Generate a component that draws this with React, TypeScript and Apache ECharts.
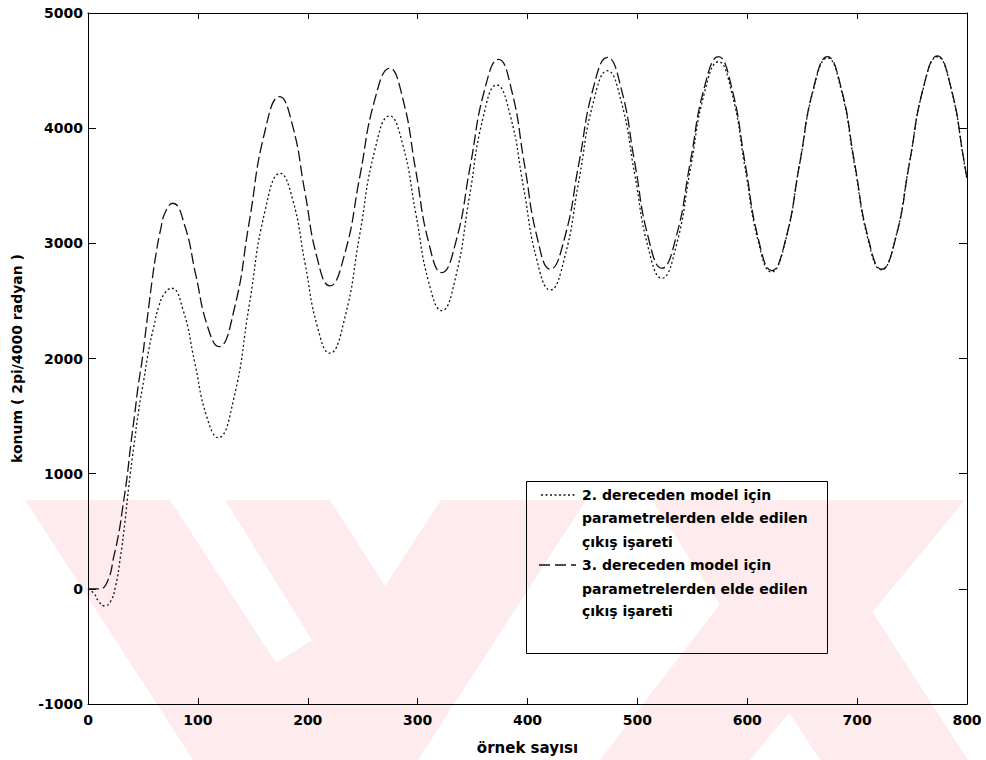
import React, { useEffect, useRef } from "react";
import * as echarts from "echarts";

// --- Data (x: örnek sayısı, y: konum) ---
const xTickValues = [0, 100, 200, 300, 400, 500, 600, 700, 800];
const yTickValues = [-1000, 0, 1000, 2000, 3000, 4000, 5000];

// 2. dereceden model (dotted)
const order2: [number, number][] = [
  [0, 0], [5.3, -38], [9.8, -110], [15.3, -148], [20.5, -110], [25, 20], [29.6, 281], [33.5, 570],
  [37.1, 888], [41.7, 1235], [46.2, 1554], [50.8, 1814], [55.3, 2075], [59.9, 2277], [64.4, 2451],
  [69.9, 2567], [76, 2610],
  [86.6, 2420], [97.2, 1962], [107.8, 1503], [118.4, 1313],
  [132.6, 1649], [146.7, 2461], [160.9, 3272], [175, 3608],
  [186.3, 3379], [197.5, 2827], [208.8, 2275], [220, 2046],
  [233.6, 2348], [247.3, 3076], [260.9, 3804], [274.5, 4106],
  [286.4, 3859], [298.3, 3261], [310.1, 2663], [322, 2416],
  [334.5, 2703], [347, 3396], [359.5, 4088], [372, 4375],
  [384.2, 4114], [396.4, 3485], [408.5, 2856], [420.7, 2595],
  [433.7, 2874], [446.8, 3547], [459.8, 4220], [472.8, 4499],
  [485.2, 4235], [497.6, 3598], [509.9, 2961], [522.3, 2697],
  [535.2, 2972], [548.1, 3637], [560.9, 4302], [573.8, 4577],
  [585.9, 4310], [597.9, 3664], [610, 3017], [622, 2750],
  [634.8, 3022], [647.5, 3680], [660.3, 4338], [673, 4610],
  [685.3, 4341], [697.5, 3690], [709.8, 3039], [722, 2770],
  [734.8, 3041], [747.5, 3695], [760.3, 4349], [773, 4620],
  [785.3, 4350], [797.5, 3697], [800, 3555],
];

// 3. dereceden model (dashed)
const order3: [number, number][] = [
  [0, 0], [5, 0], [11, 0], [18.3, 78], [23.5, 281], [28, 483], [31.7, 715], [35.6, 975],
  [38.7, 1235], [42.6, 1525], [45.6, 1756], [49.3, 1988], [52.3, 2219], [55.3, 2451], [58.4, 2682],
  [62, 2914], [66, 3116], [70.5, 3275], [77.2, 3348],
  [87.7, 3166], [98.1, 2726], [108.6, 2285], [119, 2103],
  [132.9, 2421], [146.8, 3189], [160.6, 3956], [174.5, 4274],
  [185.9, 4033], [197.3, 3452], [208.6, 2871], [220, 2630],
  [233.6, 2907], [247.3, 3575], [260.9, 4243], [274.5, 4520],
  [286.4, 4260], [298.3, 3633], [310.1, 3006], [322, 2746],
  [334.9, 3017], [347.9, 3672], [360.8, 4327], [373.7, 4598],
  [385.5, 4331], [397.2, 3687], [409, 3042], [420.7, 2775],
  [433.7, 3044], [446.8, 3695], [459.8, 4346], [472.8, 4615],
  [485.2, 4347], [497.6, 3700], [509.9, 3052], [522.3, 2784],
  [535.2, 3053], [548.1, 3703], [560.9, 4352], [573.8, 4621],
  [585.9, 4349], [598.1, 3692], [610.2, 3035], [622.3, 2763],
  [635, 3035], [647.7, 3692], [660.3, 4349], [673, 4621],
  [685.4, 4351], [697.7, 3698], [710.1, 3045], [722.4, 2775],
  [735.1, 3046], [747.7, 3701], [760.4, 4356], [773, 4627],
  [785.3, 4357], [797.5, 3704], [800, 3560],
];

const legendLabels = [
  ["2. dereceden model için", "parametrelerden elde edilen", "çıkış işareti"],
  ["3. dereceden model için", "parametrelerden elde edilen", "çıkış işareti"],
];
const xAxisTitle = "örnek sayısı";
const yAxisTitle = "konum ( 2pi/4000 radyan )";

const FONT = "'DejaVu Sans', 'Liberation Sans', Arial, sans-serif";
const INK = "#111";
const PINK = "#fdebee";

export default function App() {
  const ref = useRef<HTMLDivElement>(null);

  useEffect(() => {
    if (!ref.current) return;
    const chart = echarts.init(ref.current, null, { renderer: "svg" });

    const tickLabel = {
      fontFamily: FONT,
      fontWeight: "bold" as const,
      fontSize: 14,
      color: "#000",
      formatter: (v: number) => String(v),
    };
    const axisLine = { show: true, onZero: false, lineStyle: { color: "#000", width: 1 } };

    const baseX = {
      type: "value" as const,
      min: xTickValues[0],
      max: xTickValues[xTickValues.length - 1],
      interval: 100,
      splitLine: { show: false },
      axisLine,
      axisTick: { show: true, inside: true, length: 6, lineStyle: { color: "#000" } },
    };
    const baseY = {
      type: "value" as const,
      min: yTickValues[0],
      max: yTickValues[yTickValues.length - 1],
      interval: 1000,
      splitLine: { show: false },
      axisLine,
      axisTick: { show: true, inside: true, length: 8, lineStyle: { color: "#000" } },
    };

    const legendGraphics: any[] = [
      {
        type: "rect",
        shape: { x: 526.5, y: 481.5, width: 301, height: 172 },
        style: { fill: "none", stroke: "#000", lineWidth: 1 },
        z: 10,
      },
      {
        type: "line",
        shape: { x1: 541, y1: 495, x2: 576, y2: 495 },
        style: { stroke: INK, lineWidth: 1.3, lineDash: [2, 2.5] },
        z: 10,
      },
      {
        type: "line",
        shape: { x1: 539, y1: 565, x2: 576, y2: 565 },
        style: { stroke: INK, lineWidth: 1.3, lineDash: [11, 5] },
        z: 10,
      },
    ];
    const lineYs = [495, 518, 541.5, 565, 588.5, 611];
    legendLabels.flat().forEach((t, i) => {
      legendGraphics.push({
        type: "text",
        x: 582,
        y: lineYs[i],
        z: 10,
        style: {
          text: t,
          fontFamily: FONT,
          fontWeight: "bold",
          fontSize: 14,
          fill: "#000",
          textVerticalAlign: "middle",
        },
      });
    });

    const watermark: any[] = [
      {
        type: "polygon",
        z: -10,
        silent: true,
        shape: {
          points: [
            [25, 500], [170, 500], [276, 663], [312, 640], [225, 500], [330, 500],
            [385, 586], [441, 500], [586, 500], [418, 760], [193, 760],
          ],
        },
        style: { fill: PINK },
      },
      {
        type: "polygon",
        z: -10,
        silent: true,
        shape: { points: [[800, 500], [965, 500], [750, 760], [600, 760]] },
        style: { fill: PINK },
      },
      {
        type: "polygon",
        z: -10,
        silent: true,
        shape: { points: [[652, 500], [800, 500], [968, 760], [820, 760]] },
        style: { fill: PINK },
      },
    ];

    chart.setOption({
      animation: false,
      backgroundColor: "#fff",
      grid: { left: 88, right: 19, top: 13, bottom: 56, containLabel: false },
      xAxis: [
        {
          ...baseX,
          position: "bottom",
          axisLabel: { ...tickLabel, margin: 9 },
          name: xAxisTitle,
          nameLocation: "middle",
          nameGap: 36,
          nameTextStyle: { fontFamily: FONT, fontWeight: "bold", fontSize: 15, color: "#000" },
        },
        { ...baseX, position: "top", axisLabel: { show: false } },
      ],
      yAxis: [
        {
          ...baseY,
          position: "left",
          axisLabel: { ...tickLabel, margin: 5 },
          name: yAxisTitle,
          nameLocation: "middle",
          nameGap: 64,
          nameRotate: 90,
          nameTextStyle: { fontFamily: FONT, fontWeight: "bold", fontSize: 14, color: "#000" },
        },
        { ...baseY, position: "right", axisLabel: { show: false } },
      ],
      graphic: [...watermark, ...legendGraphics],
      series: [
        {
          name: "2. dereceden model",
          type: "line",
          data: order2,
          xAxisIndex: 0,
          yAxisIndex: 0,
          smooth: 0.5,
          symbol: "none",
          lineStyle: { color: INK, width: 1.3, type: [2, 2.5] },
          z: 5,
        },
        {
          name: "3. dereceden model",
          type: "line",
          data: order3,
          xAxisIndex: 0,
          yAxisIndex: 0,
          smooth: 0.5,
          symbol: "none",
          lineStyle: { color: INK, width: 1.3, type: [11, 4] },
          z: 5,
        },
      ],
    });

    return () => chart.dispose();
  }, []);

  return (
    <div
      ref={ref}
      style={{ position: "absolute", left: 0, top: 0, width: 986, height: 760 }}
    />
  );
}
